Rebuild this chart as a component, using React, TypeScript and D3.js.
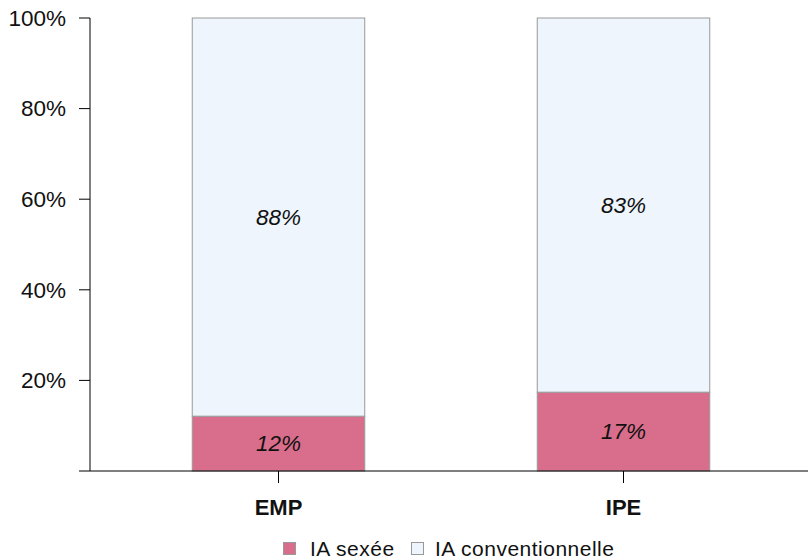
import React from "react";
import * as d3 from "d3";

const categories = ["EMP", "IPE"];
const sexee = [12.1, 17.4];
const conventionnelle = [87.9, 82.6];
const yTicks = [20, 40, 60, 80, 100];
const seriesNames = ["IA sexée", "IA conventionnelle"];
const colors = ["#D96D8C", "#EEF5FD"];

const W = 808;
const H = 559;
const font = "'Liberation Sans', Arial, sans-serif";

export default function App() {
  const x = d3.scaleBand<string>().domain(categories).range([106, 796]).paddingInner(0.5).paddingOuter(0.25);
  const y = d3.scaleLinear().domain([0, 100]).range([471, 18]);
  const axisX = 90;
  const baseY = y(0);

  const stacks = categories.map((c, i) => [
    { key: seriesNames[0], y0: 0, y1: sexee[i], color: colors[0] },
    { key: seriesNames[1], y0: sexee[i], y1: sexee[i] + conventionnelle[i], color: colors[1] },
  ]);

  return (
    <svg width={W} height={H} style={{ position: "absolute", left: 0, top: 0, background: "#fff" }} fontFamily={font}>
      {/* bars */}
      {categories.map((c, i) => (
        <g key={c}>
          {stacks[i].map((s) => (
            <g key={s.key}>
              <rect
                x={x(c)!}
                width={x.bandwidth()}
                y={y(s.y1)}
                height={y(s.y0) - y(s.y1)}
                fill={s.color}
                stroke="#999"
                strokeWidth={1}
              />
              <text
                x={x(c)! + x.bandwidth() / 2}
                y={(y(s.y0) + y(s.y1)) / 2}
                dy="0.35em"
                textAnchor="middle"
                fontStyle="italic"
                fontSize={22.5}
                fill="#111"
              >
                {Math.round(s.y1 - s.y0)}%
              </text>
            </g>
          ))}
        </g>
      ))}
      {/* y axis */}
      <line x1={axisX} x2={axisX} y1={y(100)} y2={baseY} stroke="#000" strokeWidth={1} />
      {yTicks.map((t) => (
        <g key={t}>
          <line x1={79} x2={axisX} y1={y(t)} y2={y(t)} stroke="#000" />
          <text x={66} y={y(t)} dy="0.35em" textAnchor="end" fontSize={22.5} fill="#111">
            {t}%
          </text>
        </g>
      ))}
      {/* x axis */}
      <line x1={79} x2={W} y1={baseY} y2={baseY} stroke="#000" />
      {categories.map((c) => (
        <g key={c}>
          <line x1={x(c)! + x.bandwidth() / 2} x2={x(c)! + x.bandwidth() / 2} y1={baseY} y2={baseY + 12} stroke="#000" />
          <text x={x(c)! + x.bandwidth() / 2} y={507} dy="0.35em" textAnchor="middle" fontWeight="bold" fontSize={22} fill="#111">
            {c}
          </text>
        </g>
      ))}
      {/* legend */}
      {[{ x: 283, tx: 310 }, { x: 411, tx: 435 }].map((p, i) => (
        <g key={i}>
          <rect x={p.x + 0.5} y={542.5} width={12} height={12} fill={colors[i]} stroke="#999" />
          <text x={p.tx} y={549} dy="0.35em" fontSize={21} fill="#111" letterSpacing={0.5}>
            {seriesNames[i]}
          </text>
        </g>
      ))}
    </svg>
  );
}
